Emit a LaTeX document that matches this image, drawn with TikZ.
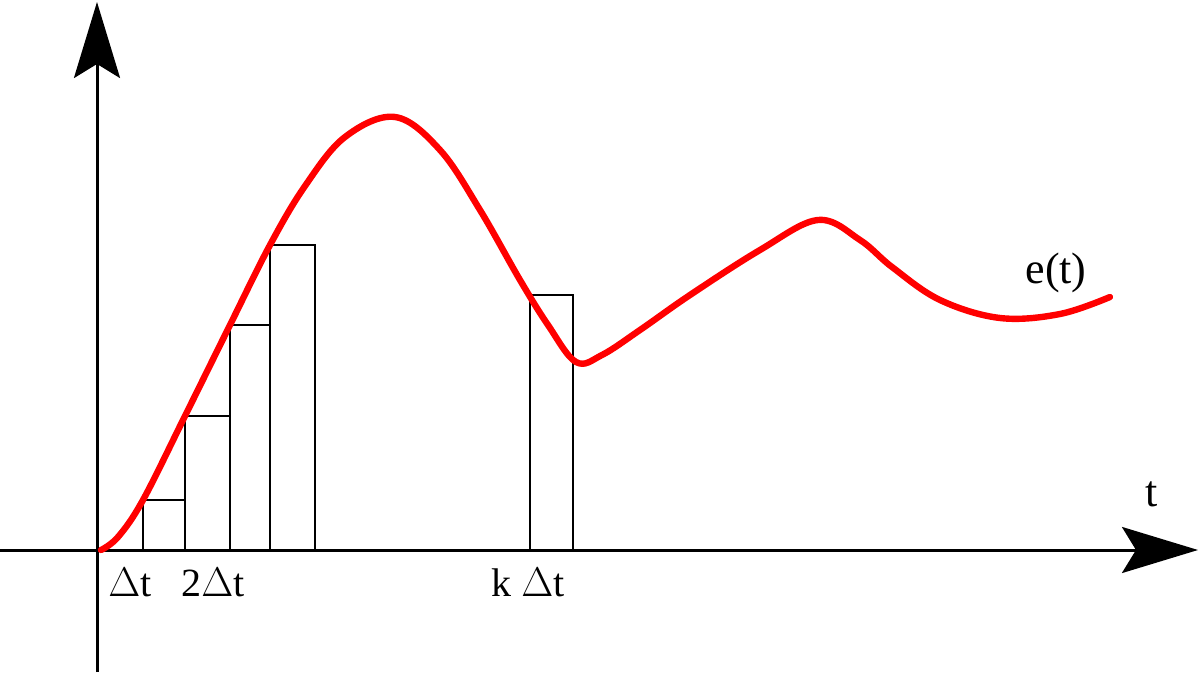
\documentclass[tikz,border=0pt]{standalone}
\usepackage{fontspec}
\setmainfont{Liberation Serif}
\usetikzlibrary{arrows.meta,positioning,calc}
\definecolor{ink}{HTML}{000000}
\definecolor{errC}{HTML}{FF0000}
\tikzset{>={Stealth[length=38pt,width=23pt,inset=7pt]},
  axis/.style={draw=ink,line width=1.5pt},
  bar/.style={draw=ink,line width=0.7pt},
  errcurve/.style={draw=errC,line width=3.2pt,line cap=round,line join=round},
  tlab/.style={font=\fontsize{20}{22}\selectfont,text=ink,inner sep=0pt},
  flab/.style={font=\fontsize{22}{24}\selectfont,text=ink,inner sep=0pt}}

\begin{document}
\begin{tikzpicture}[x=0.5pt,y=-0.5pt]
\useasboundingbox (0,0) rectangle (1200,674);
\coordinate (xL) at (0,550);\coordinate (xR) at (1198,550);
\coordinate (yB) at (97,672);\coordinate (yT) at (97,2);
\draw[axis,->] (xL) -- (xR);
\draw[axis,->] (yB) -- (yT);
% bars under the curve
\draw[bar] (143,550) rectangle (185,500);
\draw[bar] (185,550) rectangle (230,416);
\draw[bar] (230,550) rectangle (270,325);
\draw[bar] (270,550) rectangle (315,245);
\draw[bar] (530,550) rectangle (573,295);
% e(t)
\draw[errcurve] plot[smooth,tension=0.6] coordinates {(101,550) (118,537) (143,500) (185,416) (230,325) (270,245) (305,186) (345,137) (395,117) (440,150) (480,210) (520,280) (548,325) (576,362) (602,355) (640,330) (690,295) (760,250) (818,220) (860,240) (892,267) (940,300) (1000,318) (1060,314) (1110,297)};
\node[flab] (et) at (1056,273) {e(t)};
\node[flab] (tname) at (1152,494) {t};
\node[tlab] (d1) at (130,583) {$\Delta$t};
\node[tlab] (d2) at (213,583) {2$\Delta$t};
\node[tlab] (dk) at (528,583) {k $\Delta$t};
\end{tikzpicture}
\end{document}
